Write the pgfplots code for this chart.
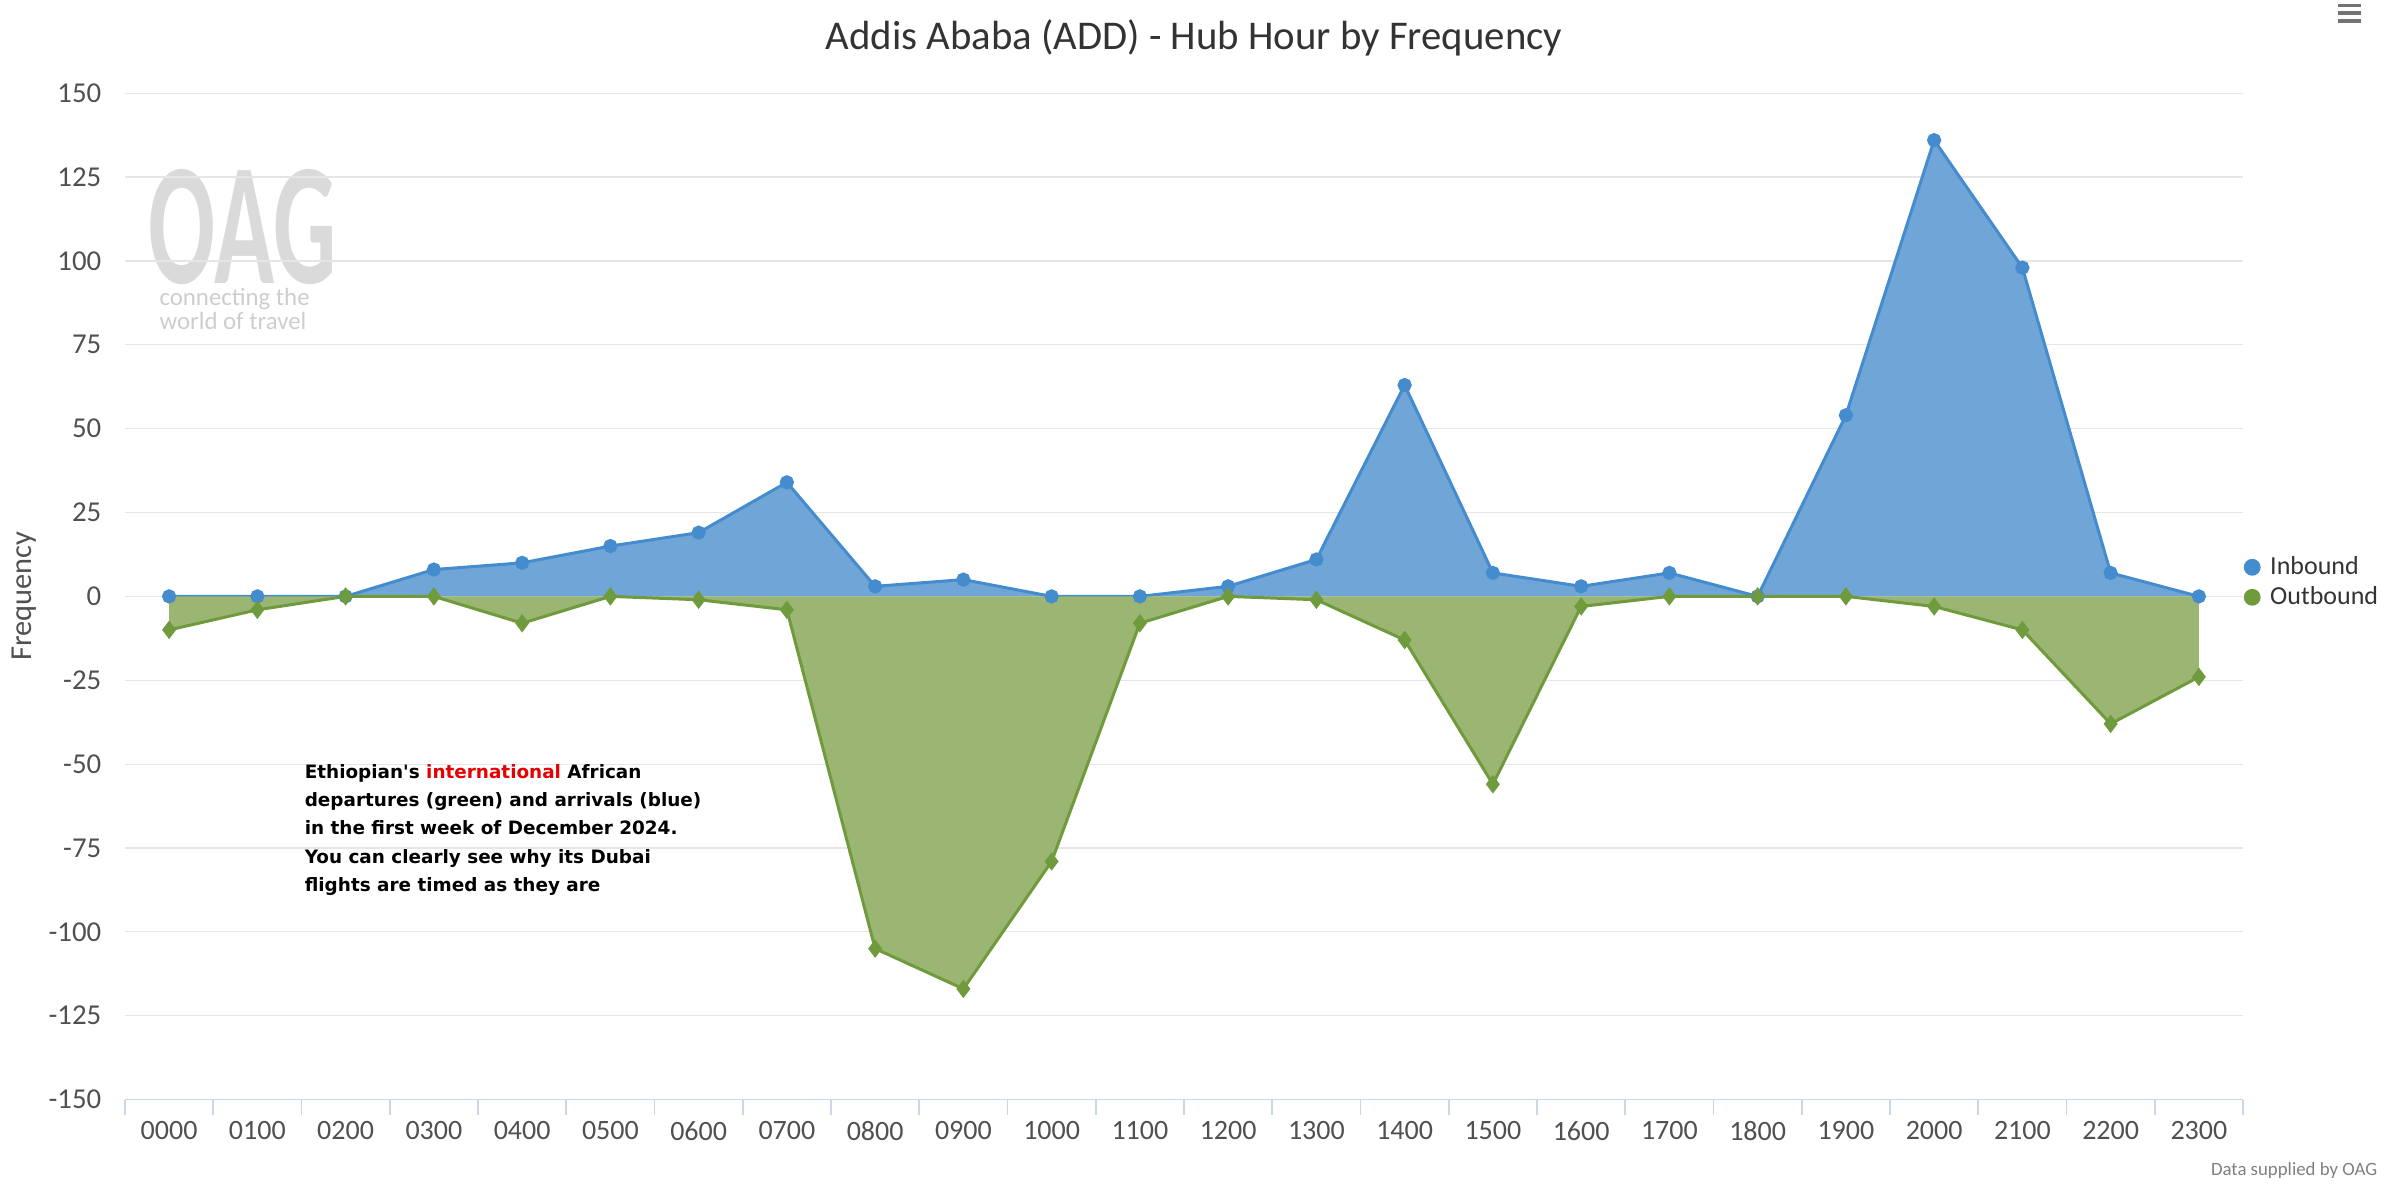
\documentclass[border=0pt]{standalone}
\usepackage{fontspec}
\setmainfont{Carlito}
\newfontfamily\annfont{DejaVu Sans}
\usepackage{pgfplots}
\pgfplotsset{compat=1.18}
\usepackage{pgfplotstable}

\definecolor{inline}{RGB}{68,140,206}
\definecolor{infill}{RGB}{112,166,215}
\definecolor{outline}{RGB}{112,155,60}
\definecolor{outfill}{RGB}{155,181,115}
\definecolor{gridc}{RGB}{230,230,230}
\definecolor{axisc}{RGB}{204,214,235}
\definecolor{tickc}{RGB}{80,80,80}
\definecolor{titlec}{RGB}{51,51,51}
\definecolor{wmark}{RGB}{218,218,218}
\definecolor{annred}{RGB}{230,0,0}

\pgfplotstableread{
x in out
0 0 -10
1 0 -4
2 0 0
3 8 0
4 10 -8
5 15 0
6 19 -1
7 34 -4
8 3 -105
9 5 -117
10 0 -79
11 0 -8
12 3 0
13 11 -1
14 63 -13
15 7 -56
16 3 -3
17 7 0
18 0 0
19 54 0
20 136 -3
21 98 -10
22 7 -38
23 0 -24
}\datatable

\begin{document}
\begin{tikzpicture}
\useasboundingbox (0,0) rectangle (598.75pt,296.5pt);
% watermark
\node[anchor=base west, inner sep=0, text depth=0pt, xscale=0.57, text=wmark, font=\bfseries\fontsize{43.5}{44}\selectfont] at (37pt,225.5pt) {OAG};
\node[anchor=west, inner sep=0, text height=3.6pt, text depth=0.9pt, text=wmark!85!gray, font=\fontsize{6.2}{7}\selectfont] at (39.7pt,221.4pt) {connecting the};
\node[anchor=west, inner sep=0, text height=3.6pt, text depth=0.9pt, text=wmark!85!gray, font=\fontsize{6.2}{7}\selectfont] at (39.7pt,215.5pt) {world of travel};

\begin{axis}[
  at={(31.25pt,21.6pt)}, anchor=south west,
  scale only axis, width=529.5pt, height=251.6pt,
  xmin=-0.5, xmax=23.5, ymin=-150, ymax=150,
  axis x line*=bottom, axis y line*=left,
  y axis line style={draw=none},
  x axis line style={draw=axisc, line width=0.45pt},
  xtick={0,...,23},
  xticklabels={0000,0100,0200,0300,0400,0500,0600,0700,0800,0900,1000,1100,1200,1300,1400,1500,1600,1700,1800,1900,2000,2100,2200,2300},
  minor xtick={-0.5,0.5,...,23.5},
  ytick={-150,-125,...,150},
  yticklabels={-150,-125,-100,-75,-50,-25,0,25,50,75,100,125,150},
  major tick length=0pt, minor tick length=3.8pt, tick align=outside,
  minor x tick style={draw=axisc, line width=0.4pt},
  ymajorgrids, grid style={draw=gridc, line width=0.3pt},
  xticklabel style={font=\fontsize{7}{8}\selectfont, text=tickc, anchor=north, inner sep=0pt, yshift=-5.2pt},
  yticklabel style={font=\fontsize{7.2}{8}\selectfont, text=tickc, anchor=east, inner sep=0pt, xshift=-5.75pt},
  clip=false,
  legend style={at={(1.0,0.514)}, anchor=west, draw=none, fill=none,
    font=\fontsize{6.5}{7}\selectfont, text=titlec, inner xsep=0pt, inner ysep=0pt,
    row sep=0pt, nodes={text height=4.6pt, text depth=1.1pt, inner ysep=0.9pt, inner xsep=2.4pt}},
  legend cell align=left,
]
\addplot[fill=infill, draw=none, forget plot] table[x=x,y=in]{\datatable} \closedcycle;
\addplot[color=inline, line width=0.75pt, mark=*, mark size=1.4pt, mark options={fill=inline}, forget plot] table[x=x,y=in]{\datatable};
\addplot[fill=outfill, draw=none, forget plot] table[x=x,y=out]{\datatable} \closedcycle;
\addplot[color=outline, line width=0.75pt, mark=diamond*, mark size=1.7pt, mark options={fill=outline}, forget plot] table[x=x,y=out]{\datatable};
\addlegendimage{legend image code/.code={\fill[inline] (1.9pt,0pt) circle (1.9pt);}}
\addlegendentry{Inbound}
\addlegendimage{legend image code/.code={\fill[outline] (1.9pt,0pt) circle (1.9pt);}}
\addlegendentry{Outbound}
\end{axis}

% title
\node[text=titlec, font=\fontsize{10.2}{12}\selectfont] at (298.5pt,287pt) {Addis Ababa (ADD) - Hub Hour by Frequency};
% y label
\node[rotate=90, text=tickc, font=\fontsize{7.6}{9}\selectfont] at (6.1pt,147.5pt) {Frequency};
% annotation
\node[anchor=north west, inner sep=0pt, align=left, font=\annfont\bfseries\fontsize{4.6}{7.07}\selectfont] at (76pt,105.6pt)
  {Ethiopian's \textcolor{annred}{international} African\\departures (green) and arrivals (blue)\\in the first week of December 2024.\\You can clearly see why its Dubai\\flights are timed as they are};
% credit
\node[anchor=east, inner sep=0pt, text=gray, font=\fontsize{4.7}{6}\selectfont] at (594.5pt,4pt) {Data supplied by OAG};
% menu icon
\foreach \yy in {295.1pt,293.2pt,291.3pt}
  \draw[line width=0.95pt, color=tickc!80!white] (584.5pt,\yy) -- (590.25pt,\yy);
\end{tikzpicture}
\end{document}
